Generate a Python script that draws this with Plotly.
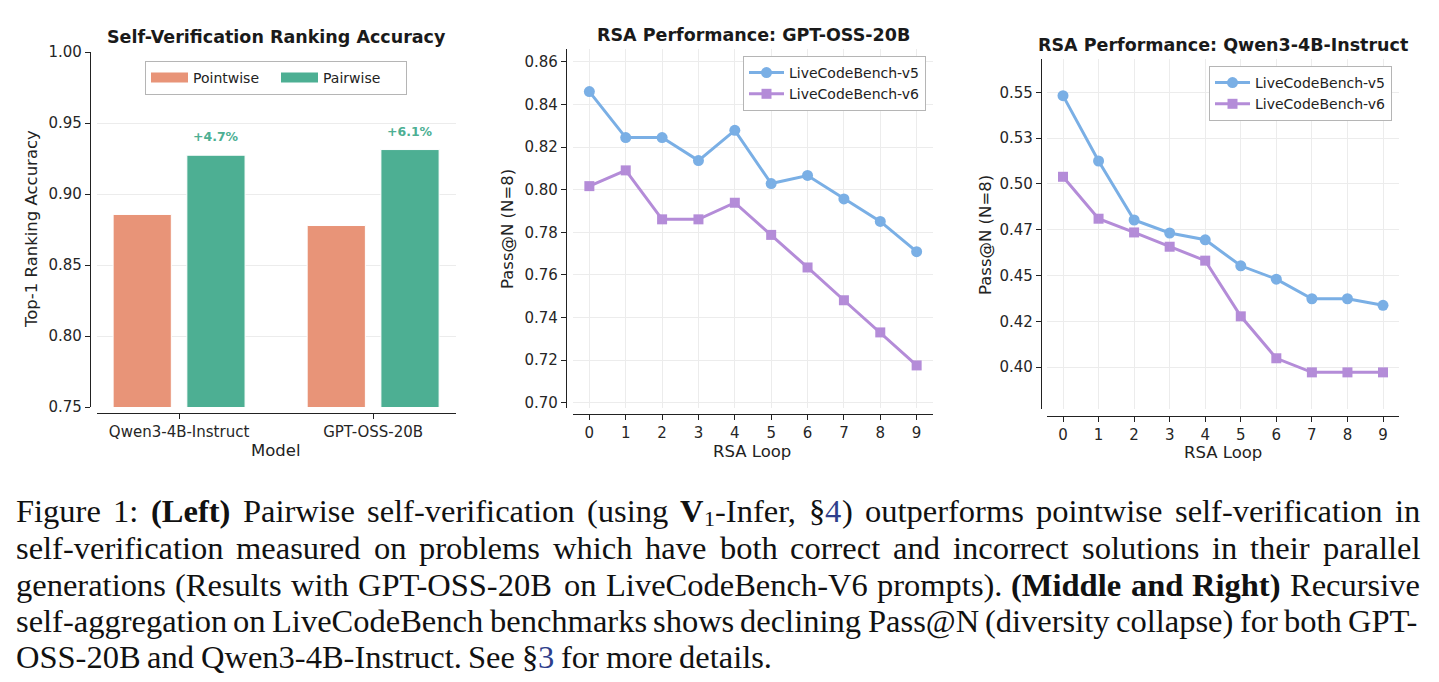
import re
import plotly.graph_objects as go

W, H = 1439, 682

# ---------------- data ----------------
models = ["Qwen3-4B-Instruct", "GPT-OSS-20B"]
pointwise = [0.8856, 0.8778]
pairwise = [0.9273, 0.9313]

loops = [0, 1, 2, 3, 4, 5, 6, 7, 8, 9]
gpt_v5 = [0.8461, 0.8245, 0.8245, 0.8137, 0.8279, 0.8029, 0.8067, 0.7957, 0.7851, 0.7709]
gpt_v6 = [0.8017, 0.8091, 0.7861, 0.7861, 0.7939, 0.7788, 0.7635, 0.7481, 0.7330, 0.7175]
qwen_v5 = [0.5482, 0.5125, 0.4803, 0.4732, 0.4695, 0.4553, 0.4480, 0.4373, 0.4373, 0.4337]
qwen_v6 = [0.5039, 0.4810, 0.4735, 0.4657, 0.4581, 0.4277, 0.4048, 0.3971, 0.3971, 0.3971]

left_yticks = [0.75, 0.80, 0.85, 0.90, 0.95, 1.00]
mid_yticks = [0.70, 0.72, 0.74, 0.76, 0.78, 0.80, 0.82, 0.84, 0.86]
right_yticks = [0.400, 0.425, 0.450, 0.475, 0.500, 0.525, 0.550]
right_yticklabels = ["0.40", "0.42", "0.45", "0.47", "0.50", "0.53", "0.55"]

series_names = ["LiveCodeBench-v5", "LiveCodeBench-v6"]

caption_lines = [
    "Figure 1: *(Left)* Pairwise self-verification (using *V*_1_-Infer, §{4}) outperforms pointwise self-verification in",
    "self-verification measured on problems which have both correct and incorrect solutions in their parallel",
    "generations (Results with GPT-OSS-20B on LiveCodeBench-V6 prompts). *(Middle* *and* *Right)* Recursive",
    "self-aggregation on LiveCodeBench benchmarks shows declining Pass@N (diversity collapse) for both GPT-",
    "OSS-20B and Qwen3-4B-Instruct. See §{3} for more details.",
]

# ---------------- style ----------------
C_POINT = "#E89478"
C_PAIR = "#4DAF93"
C_V5 = "#7AAFE5"
C_V6 = "#B48CD8"
AX = "#222222"
GRID = "#ececec"
SANS = "DejaVu Sans"
SERIF = "Liberation Serif"


def fx(px):
    return px / W


def fy(py):
    return 1 - py / H


fig = go.Figure()

# ---------- left: bars ----------
fig.add_trace(go.Bar(x=[0, 1], y=pointwise, width=0.3, offset=-0.34,
                     marker=dict(color=C_POINT, line=dict(color="white", width=1)),
                     showlegend=False, xaxis="x", yaxis="y", hoverinfo="skip"))
fig.add_trace(go.Bar(x=[0, 1], y=pairwise, width=0.3, offset=0.04,
                     marker=dict(color=C_PAIR, line=dict(color="white", width=1)),
                     showlegend=False, xaxis="x", yaxis="y", hoverinfo="skip"))
# legend entries for bars
fig.add_trace(go.Scatter(x=[None], y=[None], mode="lines", name="Pointwise",
                         line=dict(color=C_POINT, width=10), xaxis="x", yaxis="y", legend="legend"))
fig.add_trace(go.Scatter(x=[None], y=[None], mode="lines", name="Pairwise",
                         line=dict(color=C_PAIR, width=10), xaxis="x", yaxis="y", legend="legend"))

# ---------- middle / right: lines ----------
for (v5, v6, xa, ya, lg) in [(gpt_v5, gpt_v6, "x2", "y2", "legend2"),
                             (qwen_v5, qwen_v6, "x3", "y3", "legend3")]:
    fig.add_trace(go.Scatter(x=loops, y=v5, mode="lines+markers", name=series_names[0],
                             line=dict(color=C_V5, width=3),
                             marker=dict(symbol="circle", size=11, color=C_V5),
                             xaxis=xa, yaxis=ya, legend=lg))
    fig.add_trace(go.Scatter(x=loops, y=v6, mode="lines+markers", name=series_names[1],
                             line=dict(color=C_V6, width=3),
                             marker=dict(symbol="square", size=10, color=C_V6),
                             xaxis=xa, yaxis=ya, legend=lg))

common = dict(showline=True, linecolor=AX, linewidth=1.4, ticks="outside", ticklen=5,
              tickwidth=1.2, tickcolor=AX, zeroline=False, automargin=False,
              tickfont=dict(family=SANS, size=15, color="#262626"), anchor="free")

mid_all = gpt_v5 + gpt_v6
right_all = qwen_v5 + qwen_v6
legend_style = dict(bgcolor="white", bordercolor="#b5b5b5", borderwidth=1,
                    font=dict(family=SANS, size=14, color="#222"))

fig.update_layout(
    template="none",
    width=W, height=H, margin=dict(l=0, r=0, t=0, b=0, pad=0),
    paper_bgcolor="white", plot_bgcolor="white",
    xaxis=dict(domain=[fx(97), fx(456)], range=[-0.423, 1.427], position=fy(413),
               tickvals=[0, 1], ticktext=models, showgrid=False, **common),
    yaxis=dict(domain=[fy(407), fy(52)], range=[0.75, 1.0], position=fx(90),
               tickvals=left_yticks, tickformat=".2f", showgrid=True, gridcolor=GRID, **common),
    xaxis2=dict(domain=[fx(573), fx(933)], range=[-0.45, 9.45], position=fy(414),
                tickvals=loops, showgrid=True, gridcolor=GRID, **common),
    yaxis2=dict(domain=[fy(408), fy(49)], range=[min(mid_all) - 0.02, max(mid_all) + 0.02],
                position=fx(566), tickvals=mid_yticks, tickformat=".2f",
                showgrid=True, gridcolor=GRID, **common),
    xaxis3=dict(domain=[fx(1047), fx(1399)], range=[-0.45, 9.45], position=fy(416),
                tickvals=loops, showgrid=True, gridcolor=GRID, **common),
    yaxis3=dict(domain=[fy(409), fy(59)], range=[min(right_all) - 0.02, max(right_all) + 0.02],
                position=fx(1041), tickvals=right_yticks, ticktext=right_yticklabels,
                showgrid=True, gridcolor=GRID, **common),
    legend=dict(orientation="h", x=fx(276), xanchor="center", y=fy(61), yanchor="top",
                entrywidth=78, itemwidth=37, **legend_style),
    legend2=dict(x=fx(926), xanchor="right", y=fy(56), yanchor="top", itemwidth=35, **legend_style),
    legend3=dict(x=fx(1392), xanchor="right", y=fy(66), yanchor="top", itemwidth=35, **legend_style),
)

ann = []


def txt(x, y, text, size, bold=False, angle=0, color="#1a1a1a", family=SANS,
        xanchor="center", yanchor="middle"):
    ann.append(dict(x=fx(x), y=fy(y), xref="paper", yref="paper", showarrow=False,
                    text=f"<b>{text}</b>" if bold else text, textangle=angle,
                    font=dict(family=family, size=size, color=color),
                    xanchor=xanchor, yanchor=yanchor, borderpad=0, borderwidth=0))


# titles
txt(276, 37, "Self-Verification Ranking Accuracy", 17.5, bold=True)
txt(753, 35, "RSA Performance: GPT-OSS-20B", 17.5, bold=True)
txt(1223, 45, "RSA Performance: Qwen3-4B-Instruct", 17.5, bold=True)
# axis titles
txt(32, 229, "Top-1 Ranking Accuracy", 16.5, angle=-90, color="#222")
txt(276, 450, "Model", 16.5, color="#222")
txt(508, 229, "Pass@N (N=8)", 16.5, angle=-90, color="#222")
txt(752, 451, "RSA Loop", 16.5, color="#222")
txt(985, 235, "Pass@N (N=8)", 16.5, angle=-90, color="#222")
txt(1223, 452, "RSA Loop", 16.5, color="#222")

# improvement labels
for i in range(len(models)):
    gain = (pairwise[i] - pointwise[i]) / pointwise[i] * 100
    ann.append(dict(x=i + 0.19, y=pairwise[i], xref="x", yref="y", showarrow=False,
                    text=f"<b>+{gain:.1f}%</b>", yanchor="bottom", yshift=9,
                    font=dict(family=SANS, size=12.5, color=C_PAIR)))

# ---------- caption (justified, per word; Times/Liberation Serif metrics) ----------
TR = {' ': .25, 'a': .444, 'b': .5, 'c': .444, 'd': .5, 'e': .444, 'f': .333, 'g': .5, 'h': .5,
      'i': .278, 'j': .278, 'k': .5, 'l': .278, 'm': .778, 'n': .5, 'o': .5, 'p': .5, 'q': .5,
      'r': .333, 's': .389, 't': .278, 'u': .5, 'v': .5, 'w': .722, 'x': .5, 'y': .5, 'z': .444,
      'A': .722, 'B': .667, 'C': .667, 'D': .722, 'E': .611, 'F': .556, 'G': .722, 'H': .722,
      'I': .333, 'J': .389, 'K': .722, 'L': .611, 'M': .889, 'N': .722, 'O': .722, 'P': .556,
      'Q': .722, 'R': .667, 'S': .556, 'T': .611, 'U': .722, 'V': .722, 'W': .944, 'X': .722,
      'Y': .722, 'Z': .611, '(': .333, ')': .333, '-': .333, '.': .25, ',': .25, ':': .278,
      '@': .921, '=': .564, '§': .5, '%': .833}
for d in "0123456789":
    TR[d] = .5
TB = {'a': .5, 'b': .556, 'd': .556, 'h': .556, 'n': .556, 't': .333, 'M': .944, 'R': .722,
      'L': .667, 'V': .722, 'k': .556, 'u': .556}

CAP_SIZE = 32.5
SUB_SIZE = 22
REF_COLOR = "#2E3E8C"
baselines = [522, 559, 596, 632, 668]
rights = [1420, 1420, 1420, 1420, 772]
LEFT = 16


def parse_word(w):
    segs = []
    for part in re.split(r'(\*[^*]+\*|_[^_]+_|\{[^}]+\})', w):
        if not part:
            continue
        if part.startswith('*'):
            segs.append((part[1:-1], 'b'))
        elif part.startswith('_'):
            segs.append((part[1:-1], 'sub'))
        elif part.startswith('{'):
            segs.append((part[1:-1], 'ref'))
        else:
            segs.append((part, 'r'))
    return segs


def seg_w(text, style):
    if style == 'b':
        return sum(TB.get(c, TR.get(c, .5)) for c in text) * CAP_SIZE
    if style == 'sub':
        return sum(TR.get(c, .5) for c in text) * SUB_SIZE
    return sum(TR.get(c, .5) for c in text) * CAP_SIZE


for line, base, right in zip(caption_lines, baselines, rights):
    words = [parse_word(w) for w in line.split(' ')]
    widths = [sum(seg_w(t, s) for t, s in wd) for wd in words]
    gap = (right - LEFT - sum(widths)) / (len(words) - 1)
    x = LEFT
    for wd, ww in zip(words, widths):
        for t, s in wd:
            size = SUB_SIZE if s == 'sub' else CAP_SIZE
            yc = base + 4 - 0.3375 * SUB_SIZE if s == 'sub' else base - 0.3375 * CAP_SIZE
            color = REF_COLOR if s == 'ref' else "#111111"
            text = f"<b>{t}</b>" if s == 'b' else t
            ann.append(dict(x=fx(x), y=fy(yc), xref="paper", yref="paper", showarrow=False,
                            text=text, xanchor="left", yanchor="middle", borderpad=0,
                            borderwidth=0, font=dict(family=SERIF, size=size, color=color)))
            x += seg_w(t, s)
        x += gap

fig.update_layout(annotations=ann)
fig.write_html("out.html")
